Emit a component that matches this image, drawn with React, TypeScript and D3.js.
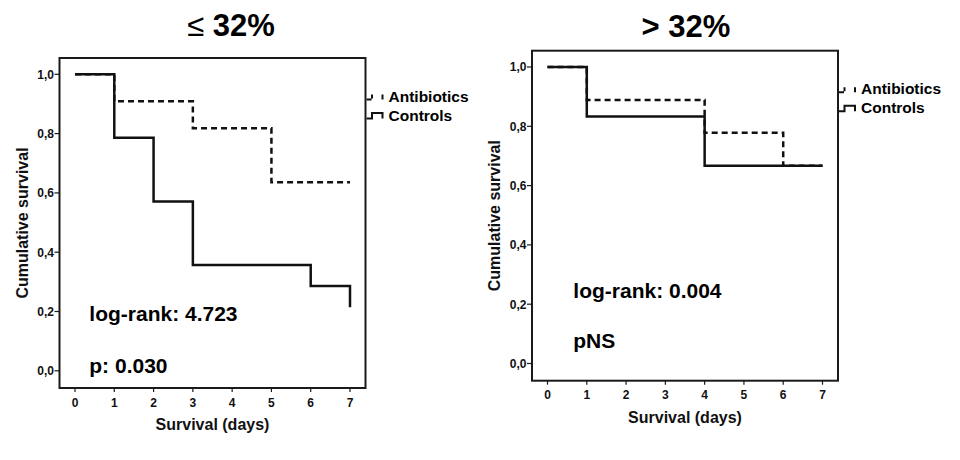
import React from "react";
import * as d3 from "d3";

// ---------- data ----------
const dayTicks = [0, 1, 2, 3, 4, 5, 6, 7];
const survivalTicks = [0, 0.2, 0.4, 0.6, 0.8, 1.0];
const seriesNames = ["Antibiotics", "Controls"];

const lowAntibioticsDays = [0, 1, 3, 5, 7];
const lowAntibioticsSurvival = [1.0, 0.909, 0.818, 0.636, 0.636];
const lowControlsDays = [0, 1, 2, 3, 6, 7];
const lowControlsSurvival = [1.0, 0.786, 0.571, 0.357, 0.286, 0.214];

const highAntibioticsDays = [0, 1, 4, 6, 7];
const highAntibioticsSurvival = [1.0, 0.889, 0.778, 0.667, 0.667];
const highControlsDays = [0, 1, 4, 7];
const highControlsSurvival = [1.0, 0.833, 0.667, 0.667];

const panelTitleSymbols = ["≤", ">"];
const panelTitleValues = ["32%", "32%"];
const logRankTexts = ["log-rank: 4.723", "log-rank: 0.004"];
const pTexts = ["p: 0.030", "pNS"];

// ---------- layout ----------
const FONT = "'Liberation Sans', Arial, Helvetica, sans-serif";
const FW = 306;
const FH = 330;

const panels = [
  {
    x0: 59.5, y0: 58, titleX: 231, titleY: 36, symbolBold: false,
    lrX: 29.8, lrY: 262.7, pY: 314.7,
    abDays: lowAntibioticsDays, abSurv: lowAntibioticsSurvival,
    ctDays: lowControlsDays, ctSurv: lowControlsSurvival,
  },
  {
    x0: 532, y0: 50.7, titleX: 686, titleY: 37, symbolBold: true,
    lrX: 41.3, lrY: 247.6, pY: 297.6,
    abDays: highAntibioticsDays, abSurv: highAntibioticsSurvival,
    ctDays: highControlsDays, ctSurv: highControlsSurvival,
  },
];

const fmt = (v: number) => d3.format(".1f")(v).replace(".", ",");

function Panel({ p, i }: { p: any; i: number }) {
  const x = d3.scaleLinear().domain([0, 7]).range([p.x0 + 15.5, p.x0 + 290.5]);
  const y = d3.scaleLinear().domain([0, 1]).range([p.y0 + 312.8, p.y0 + 16.3]);
  const line = d3
    .line<[number, number]>()
    .x((d) => x(d[0]))
    .y((d) => y(d[1]))
    .curve(d3.curveStepAfter);
  const ab = p.abDays.map((d: number, k: number) => [d, p.abSurv[k]] as [number, number]);
  const ct = p.ctDays.map((d: number, k: number) => [d, p.ctSurv[k]] as [number, number]);
  const right = p.x0 + FW;
  const legY = p.y0 + 38;
  const bottom = p.y0 + FH;
  return (
    <g>
      <text
        x={p.titleX}
        y={p.titleY}
        textAnchor="middle"
        fontFamily={FONT}
        fontWeight="bold"
        fontSize={31}
        fill="#000"
      >
        <tspan fontWeight={p.symbolBold ? "bold" : "normal"}>{panelTitleSymbols[i]}</tspan>
        <tspan> {panelTitleValues[i]}</tspan>
      </text>
      <rect x={p.x0} y={p.y0} width={FW} height={FH} fill="none" stroke="#1a1a1a" strokeWidth={2} />
      {survivalTicks.map((t) => (
        <g key={"y" + t}>
          <line x1={p.x0 - 5} x2={p.x0} y1={y(t)} y2={y(t)} stroke="#1a1a1a" strokeWidth={1.2} />
          <text
            x={p.x0 - 5.5}
            y={y(t) + 4.3}
            textAnchor="end"
            fontFamily={FONT}
            fontWeight="bold"
            fontSize={12}
            fill="#111"
          >
            {fmt(t)}
          </text>
        </g>
      ))}
      {dayTicks.map((t) => (
        <g key={"x" + t}>
          <line x1={x(t)} x2={x(t)} y1={bottom} y2={bottom + 4} stroke="#1a1a1a" strokeWidth={1.2} />
          <text
            x={x(t)}
            y={bottom + 18.5}
            textAnchor="middle"
            fontFamily={FONT}
            fontWeight="bold"
            fontSize={12}
            fill="#111"
          >
            {t}
          </text>
        </g>
      ))}
      <text
        x={p.x0 + FW / 2}
        y={bottom + 42}
        textAnchor="middle"
        fontFamily={FONT}
        fontWeight="bold"
        fontSize={16}
        fill="#111"
      >
        Survival (days)
      </text>
      <text
        transform={`translate(${p.x0 - 32},${p.y0 + FH / 2}) rotate(-90)`}
        textAnchor="middle"
        fontFamily={FONT}
        fontWeight="bold"
        fontSize={16}
        fill="#111"
      >
        Cumulative survival
      </text>
      <path d={line(ab) || ""} fill="none" stroke="#111" strokeWidth={2.5} strokeDasharray="6 4" />
      <path d={line(ct) || ""} fill="none" stroke="#111" strokeWidth={2.5} />
      <text x={p.x0 + p.lrX} y={p.y0 + p.lrY} fontFamily={FONT} fontWeight="bold" fontSize={21} fill="#000">
        {logRankTexts[i]}
      </text>
      <text x={p.x0 + p.lrX} y={p.y0 + p.pY} fontFamily={FONT} fontWeight="bold" fontSize={21} fill="#000">
        {pTexts[i]}
      </text>
      {/* legend */}
      <path
        d={`M${right + 1},${legY + 3.5} H${right + 6.5} V${legY - 2} H${right + 17} V${legY + 3.5}`}
        fill="none"
        stroke="#111"
        strokeWidth={2}
        strokeDasharray="5 1.5 4 11.5 5"
      />
      <text x={right + 23} y={legY + 5.5} fontFamily={FONT} fontWeight="bold" fontSize={15.5} fill="#000">
        {seriesNames[0]}
      </text>
      <path
        d={`M${right + 1},${legY + 22.5} H${right + 6.5} V${legY + 17} H${right + 17} V${legY + 22.5}`}
        fill="none"
        stroke="#111"
        strokeWidth={2}
      />
      <text x={right + 23} y={legY + 24.5} fontFamily={FONT} fontWeight="bold" fontSize={15.5} fill="#000">
        {seriesNames[1]}
      </text>
    </g>
  );
}

export default function App() {
  return (
    <svg
      width={960}
      height={460}
      style={{ position: "absolute", left: 0, top: 0, background: "#fff" }}
    >
      <rect x={0} y={0} width={960} height={460} fill="#fff" />
      {panels.map((p, i) => (
        <Panel key={i} p={p} i={i} />
      ))}
    </svg>
  );
}
